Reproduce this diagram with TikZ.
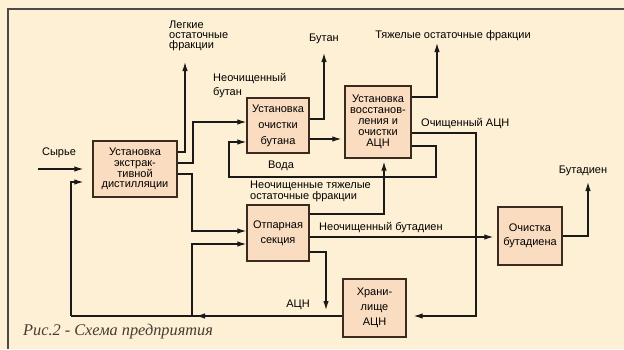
\documentclass[tikz,border=0pt]{standalone}
\usepackage{fontspec}
\setmainfont{Liberation Sans}
\newfontfamily\capfont{Liberation Serif}
\usetikzlibrary{arrows.meta}
\definecolor{bg}{HTML}{FEF0D4}
\definecolor{boxfill}{HTML}{FADCC0}
\definecolor{boxline}{HTML}{3A2A20}
\definecolor{wire}{HTML}{1A1A1A}
\definecolor{framec}{HTML}{4A4A4A}
\definecolor{captxt}{HTML}{453C34}
\begin{document}
\begin{tikzpicture}[x=1pt,y=-1pt,
  unit/.style={draw=boxline, line width=1.3pt, fill=boxfill, inner sep=0pt, align=center},
  lbl/.style={inner sep=0pt, font=\fontsize{11}{10}\selectfont},
  arr/.style={draw=wire, line width=1.2pt, -{Latex[length=9pt,width=5.5pt]}},
  wirel/.style={draw=wire, line width=1.2pt}]
\fill[bg] (0,0) rectangle (624,349);
\useasboundingbox (0,0) rectangle (624,349);
\draw[framec, line width=1.2pt] (624,9) -- (8,9) -- (8,349);

% units
\node[unit, minimum width=84pt, minimum height=56pt, font=\fontsize{11}{10.7}\selectfont] (b1) at (135,169) {Установка\\экстрак-\\тивной\\дистилляции};
\node[unit, minimum width=62pt, minimum height=55pt, font=\fontsize{11}{16}\selectfont] (b2) at (278,125.5) {Установка\\очистки\\бутана};
\node[unit, minimum width=66pt, minimum height=72pt, font=\fontsize{11}{11}\selectfont] (b3) at (378,122) {Установка\\восстанов-\\ления и\\очистки\\АЦН};
\node[unit, minimum width=62pt, minimum height=56pt, font=\fontsize{11}{15}\selectfont] (b4) at (278,233) {Отпарная\\секция};
\node[unit, minimum width=64pt, minimum height=58pt, font=\fontsize{11}{14}\selectfont] (b5) at (530,236) {Очистка\\бутадиена};
\node[unit, minimum width=63pt, minimum height=58pt, font=\fontsize{11}{15}\selectfont] (b6) at (374.5,308) {Храни-\\лище\\АЦН};

% labels
\node[lbl, anchor=west, align=left] (tLight) at (169,36) {Легкие\\остаточные\\фракции};
\node[lbl] (tFeed) at (59,153) {Сырье};
\node[lbl, anchor=west, align=left, font=\fontsize{11}{14.5}\selectfont] (tRawBut) at (213,85.5) {Неочищенный\\бутан};
\node[lbl] (tBut) at (324,39) {Бутан};
\node[lbl] (tHeavy) at (453,36) {Тяжелые остаточные фракции};
\node[lbl, anchor=west] (tCleanA) at (421,124) {Очищенный АЦН};
\node[lbl] (tWater) at (281,166) {Вода};
\node[lbl, anchor=west, align=left, font=\fontsize{11}{9.5}\selectfont] (tRawHeavy) at (250,191.5) {Неочищенные тяжелые\\остаточные фракции};
\node[lbl, anchor=west] (tRawBd) at (319,228) {Неочищенный бутадиен};
\node[lbl] (tBd) at (583,171) {Бутадиен};
\node[lbl] (tAcn) at (298,305) {АЦН};
\node[anchor=west, inner sep=0pt, font=\capfont\itshape\fontsize{16.3}{16}\selectfont, text=captxt] (cap) at (23,332) {Рис.2 - Схема предприятия};

% free ends
\coordinate (feedIn) at (38,169);
\coordinate (lightOut) at (185,62);
\coordinate (butOut) at (324,53);
\coordinate (heavyOut) at (437,43);
\coordinate (bdOut) at (588,182);
\coordinate (toStore) at (326,310);

% connectors
\draw[arr, shorten >=9pt] (feedIn) -- (b1.west |- feedIn);
\draw[arr] (b1.east |- 0,152) -| (lightOut);
\draw[arr] (b1.east |- 0,163) -- (193,163) |- (b2.west |- 0,122);
\draw[arr] (b1.east |- 0,174) -- (192,174) |- (b4.west |- 0,231);
\draw[arr] (b2.east |- 0,119) -| (butOut);
\draw[arr, shorten >=3pt] (b2.east |- 0,139) -- (b3.west |- 0,139);
\draw[arr] (b3.east |- 0,97) -| (heavyOut);
\draw[arr, shorten >=7pt] (b3.east |- 0,133) -- (476,133) |- (b6.east |- 0,316);
\draw[arr] (b3.east |- 0,146) -- (436,146) -- (436,177) -- (229,177) |- (b2.west |- 0,142);
\draw[arr, shorten >=3pt] (b4.east |- 0,214) -- (384,214) -- (b3.south -| 384,0);
\draw[arr, shorten >=4pt] (b4.east |- 0,237) -- (b5.west |- 0,237);
\draw[arr] (b5.east |- 0,236) -| (bdOut);
\draw[arr] (b4.east |- 0,252) -| (toStore);
\draw[arr] (b6.west |- 0,316) -- (196,316);
\draw[wirel] (200,316) -- (71,316);
\draw[arr, shorten >=9pt] (71,316) |- (b1.west |- 0,182);
\draw[arr] (192,316) |- (b4.west |- 0,244);
\end{tikzpicture}
\end{document}
